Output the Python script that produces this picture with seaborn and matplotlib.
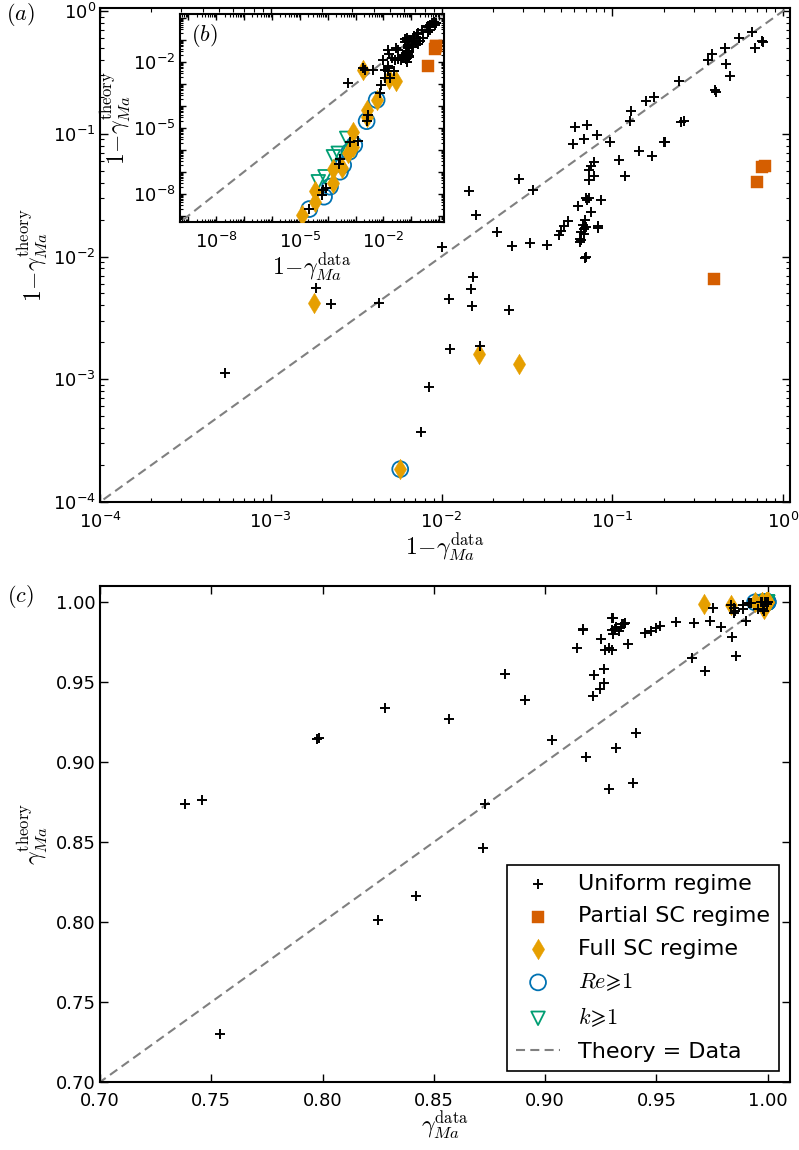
import numpy as np
import matplotlib
matplotlib.use("Agg")
import matplotlib.pyplot as plt
import seaborn as sns
from matplotlib.ticker import (FixedLocator, LogLocator, FuncFormatter,
                               NullFormatter, FormatStrFormatter)

# ---------------- data: 1 - gamma_Ma (data, theory) ----------------
uniform_data = [0.66, 0.553, 0.750, 0.765, 0.69, 0.46, 0.386, 0.366, 0.466, 0.49,
                0.246, 0.40, 0.405, 0.175, 0.158, 0.128, 0.127, 0.262, 0.254,
                0.0605, 0.0715, 0.068, 0.0815, 0.0590, 0.097, 0.2024, 0.2015, 0.143, 0.172, 0.109,
                0.0787, 0.0755, 0.0735, 0.078, 0.0734, 0.118, 0.0284, 0.0144, 0.0342, 0.0160,
                0.0210, 0.0260, 0.0332, 0.0414, 0.0100,
                0.070, 0.0730, 0.0715, 0.0855, 0.0630, 0.0750, 0.0695, 0.0550, 0.0525, 0.0485, 0.0500,
                0.0670, 0.0700, 0.0686, 0.0660, 0.0680, 0.0830, 0.0830, 0.0645, 0.0655, 0.0643, 0.0695, 0.0700,
                0.0152, 0.0148, 0.0110, 0.0150, 0.0248, 0.0112, 0.0167,
                0.00185, 0.00224, 0.0043, 0.00054, 0.0084, 0.0076,
                2.19e-5, 6.1e-5, 6.6e-5, 8.7e-5, 2.77e-4, 2.6e-4, 6.3e-4, 1.26e-3, 2.9e-3, 2.5e-3]
uniform_theory = [0.68, 0.60, 0.575, 0.56, 0.50, 0.50, 0.445, 0.40, 0.37, 0.296,
                  0.270, 0.226, 0.221, 0.199, 0.184, 0.154, 0.126, 0.126, 0.1236,
                  0.113, 0.117, 0.091, 0.097, 0.082, 0.086, 0.0856, 0.0852, 0.073, 0.066, 0.061,
                  0.0590, 0.0545, 0.0505, 0.0455, 0.042, 0.045, 0.043, 0.034, 0.0348, 0.0218,
                  0.0157, 0.0121, 0.0130, 0.0123, 0.0120,
                  0.0298, 0.0300, 0.0288, 0.0290, 0.0260, 0.0232, 0.0200, 0.0196, 0.0178, 0.0150, 0.0160,
                  0.0180, 0.0175, 0.0166, 0.0158, 0.0153, 0.0177, 0.0171, 0.0138, 0.0136, 0.0132, 0.0098, 0.0100,
                  0.0068, 0.0054, 0.00447, 0.00394, 0.00370, 0.00175, 0.00187,
                  0.0055, 0.00412, 0.0042, 0.00112, 0.00087, 0.00037,
                  2.0e-9, 8.7e-9, 1.48e-8, 1.9e-8, 3.8e-7, 2.2e-7, 2.3e-6, 2.5e-6, 3.8e-5, 2.0e-5]

partial_data = [0.757, 0.78, 0.709, 0.394]
partial_theory = [0.0532, 0.0545, 0.0405, 0.00659]

full_data = [0.00179, 0.0165, 0.0286, 0.00573, 1.15e-5, 3.4e-5, 3.4e-5, 1.6e-4, 1.6e-4,
             3.2e-4, 5.5e-4, 7.9e-4, 8.3e-4, 2.5e-3, 2.5e-3]
full_theory = [0.00415, 0.0016, 0.00132, 0.000185, 1.02e-9, 4.4e-9, 1.32e-8, 3.0e-8, 1.29e-7,
               1.55e-7, 7.4e-7, 1.38e-6, 6.6e-6, 3.2e-5, 6.4e-5]

re_data = [2.19e-5, 7.4e-5, 1.21e-4, 2.77e-4, 3.6e-4, 6.0e-4, 9.0e-4, 2.5e-3, 0.00573]
re_theory = [2.0e-9, 7.3e-9, 2.08e-8, 1.0e-7, 2.0e-7, 8.1e-7, 1.64e-6, 2.0e-5, 0.000185]

k_data = [4.6e-5, 8.0e-5, 1.6e-4, 2.4e-4, 4.8e-4]
k_theory = [3.5e-8, 5.9e-8, 4.8e-7, 6.9e-7, 3.3e-6]

diag = [1e-10, 2.0]

# ---------------- style ----------------
sns.set_theme(style="ticks")
plt.rcParams.update({
    "font.family": ["DejaVu Sans"],
    "mathtext.fontset": "cm",
    "text.color": "black", "axes.labelcolor": "black",
    "axes.edgecolor": "black", "axes.linewidth": 1.5,
    "xtick.color": "black", "ytick.color": "black",
    "xtick.direction": "in", "ytick.direction": "in",
    "xtick.top": True, "ytick.right": True,
    "xtick.major.size": 5.5, "ytick.major.size": 5.5,
    "xtick.minor.size": 2.8, "ytick.minor.size": 2.8,
    "xtick.major.width": 1.0, "ytick.major.width": 1.0,
    "xtick.minor.width": 0.8, "ytick.minor.width": 0.8,
    "xtick.major.pad": 7, "ytick.major.pad": 3,
    "xtick.labelsize": 13, "ytick.labelsize": 13,
    "lines.scale_dashes": False,
})

C_PART = "#D55E00"
C_FULL = "#E69F00"
C_RE = "#0072B2"
C_K = "#009E73"

fig = plt.figure(figsize=(7.99, 11.5), dpi=100)
ax_a = fig.add_axes([0.1252, 0.5635, 0.8636, 0.4296])
ax_c = fig.add_axes([0.1252, 0.0591, 0.8636, 0.4313])
ax_b = fig.add_axes([0.2253, 0.8067, 0.3304, 0.1811])


def draw(ax, tf):
    sns.lineplot(x=tf(np.array(diag)), y=tf(np.array(diag)), ax=ax, color="0.5",
                 linestyle=(0, (6.5, 3.8)), linewidth=1.5, label="Theory = Data",
                 zorder=1, legend=False, sort=False)
    sns.scatterplot(x=tf(np.array(re_data)), y=tf(np.array(re_theory)), ax=ax, marker="o",
                    s=130, color=C_RE, facecolor="none", edgecolor=C_RE, linewidth=1.3,
                    label=r"$Re\!\geqslant\!1$", zorder=3, legend=False)
    sns.scatterplot(x=tf(np.array(k_data)), y=tf(np.array(k_theory)), ax=ax, marker="v",
                    s=95, color=C_K, facecolor="none", edgecolor=C_K, linewidth=1.3,
                    label=r"$k\!\geqslant\!1$", zorder=3, legend=False)
    sns.scatterplot(x=tf(np.array(partial_data)), y=tf(np.array(partial_theory)), ax=ax,
                    marker="s", s=75, color=C_PART, edgecolor=C_PART, linewidth=0.3,
                    label="Partial SC regime", zorder=4, legend=False)
    sns.scatterplot(x=tf(np.array(full_data)), y=tf(np.array(full_theory)), ax=ax,
                    marker="d", s=110, color=C_FULL, edgecolor=C_FULL, linewidth=0.3,
                    label="Full SC regime", zorder=4, legend=False)
    sns.scatterplot(x=tf(np.array(uniform_data)), y=tf(np.array(uniform_theory)), ax=ax,
                    marker="+", s=60, color="black", linewidth=1.4,
                    label="Uniform regime", zorder=5, legend=False)


def logfmt(show=None):
    def f(v, pos):
        e = int(round(np.log10(v)))
        if show is not None and e not in show:
            return ""
        return r"$\mathregular{10^{%d}}$" % e
    return FuncFormatter(f)


# ---------------- panel (a) ----------------
draw(ax_a, lambda v: v)
ax_a.set_xscale("log")
ax_a.set_yscale("log")
ax_a.set_xlim(1e-4, 1.1)
ax_a.set_ylim(1e-4, 1.06)
for axis in (ax_a.xaxis, ax_a.yaxis):
    axis.set_major_locator(LogLocator(base=10, numticks=20))
    axis.set_minor_locator(LogLocator(base=10, subs=np.arange(2, 10), numticks=20))
    axis.set_major_formatter(logfmt())
    axis.set_minor_formatter(NullFormatter())
ax_a.set_xlabel(r"$1\!-\!\gamma_{Ma}^{\mathrm{data}}$", fontsize=17, labelpad=0)
ax_a.set_ylabel(r"$1\!-\!\gamma_{Ma}^{\mathrm{theory}}$", fontsize=17, labelpad=2)

# ---------------- inset (b) ----------------
draw(ax_b, lambda v: v)
ax_b.set_xscale("log")
ax_b.set_yscale("log")
ax_b.set_xlim(5e-10, 1.5)
ax_b.set_ylim(5e-10, 1.5)
for axis in (ax_b.xaxis, ax_b.yaxis):
    axis.set_major_locator(LogLocator(base=10, numticks=30))
    axis.set_minor_locator(LogLocator(base=10, subs=np.arange(2, 10), numticks=30))
    axis.set_major_formatter(logfmt(show=(-8, -5, -2)))
    axis.set_minor_formatter(NullFormatter())
ax_b.tick_params(which="major", length=4)
ax_b.tick_params(which="minor", length=2)
ax_b.set_xlabel(r"$1\!-\!\gamma_{Ma}^{\mathrm{data}}$", fontsize=17, labelpad=0)
ax_b.set_ylabel(r"$1\!-\!\gamma_{Ma}^{\mathrm{theory}}$", fontsize=17, labelpad=0)
ax_b.text(0.04, 0.96, r"$(b)$", transform=ax_b.transAxes, fontsize=16,
          ha="left", va="top")

# ---------------- panel (c) ----------------
draw(ax_c, lambda v: 1.0 - v)
ax_c.set_xlim(0.70, 1.01)
ax_c.set_ylim(0.70, 1.01)
ticks = [0.70, 0.75, 0.80, 0.85, 0.90, 0.95, 1.00]
ax_c.xaxis.set_major_locator(FixedLocator(ticks))
ax_c.yaxis.set_major_locator(FixedLocator(ticks))
ax_c.xaxis.set_major_formatter(FormatStrFormatter("%.2f"))
ax_c.yaxis.set_major_formatter(FormatStrFormatter("%.2f"))
ax_c.set_xlabel(r"$\gamma_{Ma}^{\mathrm{data}}$", fontsize=17, labelpad=0)
ax_c.set_ylabel(r"$\gamma_{Ma}^{\mathrm{theory}}$", fontsize=17, labelpad=4)

handles, labels = ax_c.get_legend_handles_labels()
order = ["Uniform regime", "Partial SC regime", "Full SC regime",
         r"$Re\!\geqslant\!1$", r"$k\!\geqslant\!1$", "Theory = Data"]
hmap = dict(zip(labels, handles))
leg = ax_c.legend([hmap[o] for o in order], order, loc="lower right", fontsize=16,
                  frameon=True, fancybox=False, edgecolor="black", framealpha=1,
                  scatterpoints=1, numpoints=1, handlelength=2.0,
                  borderaxespad=0.5, labelspacing=0.58)
leg.get_frame().set_linewidth(1.2)

fig.text(20 / 799, 1 - 15 / 1150, r"$(a)$", fontsize=16, ha="center", va="center")
fig.text(20 / 799, 1 - 596 / 1150, r"$(c)$", fontsize=16, ha="center", va="center")

fig.savefig("out.png", dpi=100)
